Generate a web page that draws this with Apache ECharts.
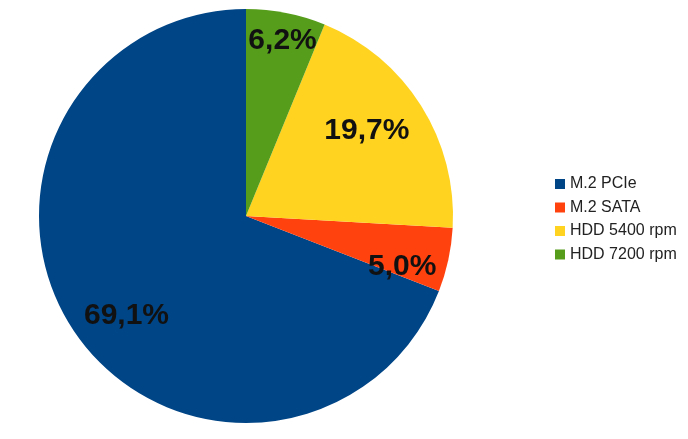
<!DOCTYPE html>
<html><head><meta charset="utf-8">
<script src="https://cdn.jsdelivr.net/npm/echarts@6/dist/echarts.min.js"></script>
<style>html,body{margin:0;padding:0;background:#fff}#c{width:688px;height:439px}</style>
</head><body><div id="c"></div>
<script>
const categories = ['M.2 PCIe', 'M.2 SATA', 'HDD 5400 rpm', 'HDD 7200 rpm'];
const values = [69.1, 5.0, 19.7, 6.2];
const labels = ['69,1%', '5,0%', '19,7%', '6,2%'];
const colors = ['#004586', '#ff420e', '#ffd320', '#579d1c'];

const chart = echarts.init(document.getElementById('c'));
const center = [246, 216];
const R = 207;
const labelOffsets = [[15, 8], [-3, 16], [-17, 2], [5, -15]];
chart.setOption({
  animation: false,
  color: colors,
  legend: {
    orient: 'vertical', left: 550, top: 171,
    itemWidth: 10, itemHeight: 10, itemGap: 7.5,
    icon: 'rect',
    textStyle: { fontFamily: 'Liberation Sans, Arial', fontSize: 16, color: '#222', lineHeight: 10 },
    data: categories
  },
  series: [{
    type: 'pie', center: center, radius: [0, R],
    clockwise: false, startAngle: 90,
    label: { show: false }, labelLine: { show: false },
    itemStyle: { borderWidth: 0 },
    emphasis: { disabled: true },
    data: categories.map((n, i) => ({ name: n, value: values[i] }))
  }, {
    type: 'pie', center: center, radius: [130, 190],
    clockwise: false, startAngle: 90, silent: true,
    itemStyle: { color: 'rgba(0,0,0,0)' },
    labelLine: { show: false },
    label: { show: true, position: 'inside', fontFamily: 'Liberation Sans, Arial', fontWeight: 'bold', fontSize: 30, color: '#111' },
    emphasis: { disabled: true },
    data: categories.map((n, i) => ({ name: n + ' ', value: values[i],
      label: { formatter: labels[i], offset: labelOffsets[i] } }))
  }]
});
</script></body></html>
